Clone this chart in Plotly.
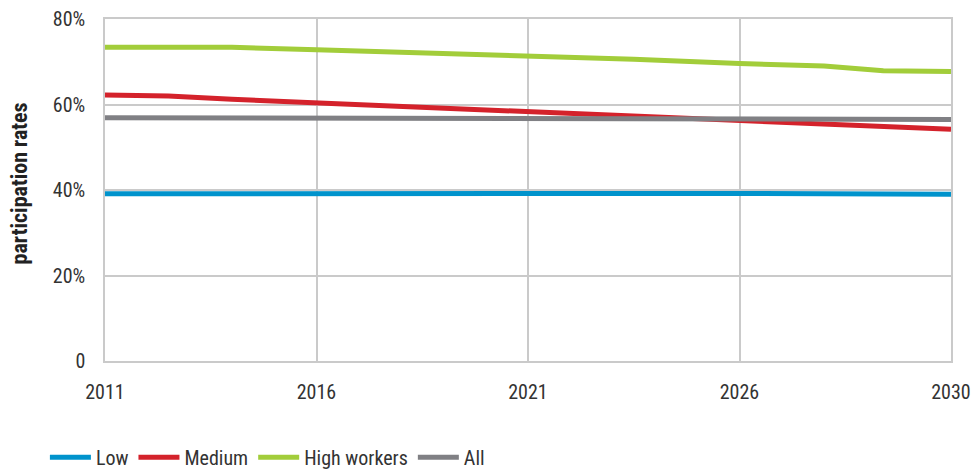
import plotly.graph_objects as go

# Evenly spaced period axis: tick labels at positions 0, 5, 10, 15, 20
tick_pos = [0, 5, 10, 15, 20]
tick_labels = ["2011", "2016", "2021", "2026", "2030"]

x_low = [0, 5, 10, 15, 20]
low = [39.1, 39.2, 39.3, 39.2, 39.0]

x_med = [0, 1.5, 3, 5, 7, 10, 12.5, 15, 17.5, 20]
medium = [62.2, 62.0, 61.2, 60.4, 59.5, 58.3, 57.4, 56.2, 55.2, 54.2]

x_high = [0, 3, 5, 7, 10, 12.5, 15, 17, 18.4, 20]
high = [73.4, 73.4, 72.8, 72.2, 71.4, 70.6, 69.6, 69.0, 67.9, 67.7]

x_all = [0, 10, 15, 20]
all_ = [56.9, 56.8, 56.6, 56.5]

y_ticks = [0, 20, 40, 60, 80]
y_labels = ["0", "20%", "40%", "60%", "80%"]

FONT = "Roboto Condensed, Roboto, sans-serif"

fig = go.Figure()
series = [
    ("Low", x_low, low, "#0093cc"),
    ("Medium", x_med, medium, "#d4222b"),
    ("High workers", x_high, high, "#a2cd3a"),
    ("All", x_all, all_, "#808084"),
]
for name, xs, ys, col in series:
    fig.add_trace(go.Scatter(x=xs, y=ys, name=name, mode="lines",
                             line=dict(color=col, width=5)))

fig.update_layout(
    width=971, height=464,
    margin=dict(l=97, r=28, t=11, b=111, autoexpand=False),
    paper_bgcolor="white", plot_bgcolor="white",
    font=dict(family=FONT, size=20, color="#333333"),
    showlegend=True,
    legend=dict(orientation="h", xref="container", x=0.038, xanchor="left",
                yref="container", y=0.032, yanchor="middle", itemwidth=41,
                font=dict(size=20, color="#333333")),
    annotations=[dict(text="<b>participation rates</b>", textangle=-90,
                      xref="paper", yref="paper", x=-0.101, y=0.518,
                      xanchor="center", yanchor="middle", showarrow=False,
                      font=dict(family=FONT, size=22, color="#222222"))],
)
fig.update_xaxes(range=[0, 20], tickvals=tick_pos, ticktext=tick_labels,
                 showgrid=True, gridcolor="#cacaca", gridwidth=1.5,
                 showline=True, linecolor="#cacaca", linewidth=1.5, mirror=True,
                 zeroline=False, ticks="", ticklabelstandoff=12, automargin=False)
fig.update_yaxes(range=[0, 80], tickvals=y_ticks, ticktext=y_labels,
                 showgrid=True, gridcolor="#cacaca", gridwidth=1.5,
                 showline=True, linecolor="#cacaca", linewidth=1.5, mirror=True,
                 zeroline=False, ticks="", ticklabelstandoff=14, automargin=False,
                 ticklabeloverflow="allow")

fig.write_html("out.html")
